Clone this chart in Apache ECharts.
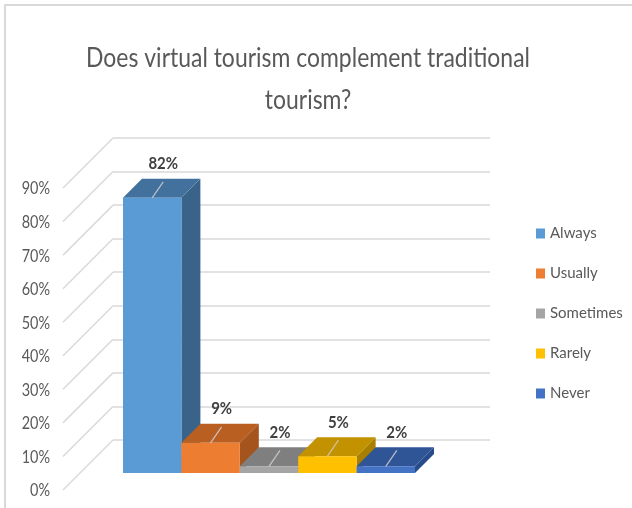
<!DOCTYPE html>
<html>
<head>
<meta charset="utf-8">
<script src="https://cdn.jsdelivr.net/npm/echarts@6/dist/echarts.min.js"></script>
<style>
  html, body { margin: 0; padding: 0; background: #ffffff; }
  #chart { width: 632px; height: 508px; }
</style>
</head>
<body>
<div id="chart"></div>
<script>
// Survey answers and their shares (percent)
const answers = ['Always', 'Usually', 'Sometimes', 'Rarely', 'Never'];
const shares = [82, 9, 2, 5, 2];
// Value-axis ticks (percent)
const tickValues = [0, 10, 20, 30, 40, 50, 60, 70, 80, 90];
const titleText = 'Does virtual tourism complement traditional\ntourism?';

// Face colours of each 3D column: front, top, right side
const frontColors = ['#5B9BD5', '#ED7D31', '#A5A5A5', '#FFC000', '#4472C4'];
const topColors = ['#41719C', '#B95F21', '#7F7F7F', '#C29200', '#2F5597'];
const sideColors = ['#3A6389', '#A4541C', '#6F6F6F', '#A97F00', '#284C8A'];

const FONT = "Lato, 'Open Sans', sans-serif";
const TEXT_GREY = '#595959';
const GRID_GREY = '#d9d9d9';
const DEPTH = 19;          // projected depth of a column (px, up and to the right)
const WALL_SHIFT = 50;     // offset from label plane to the back wall
const NARROW = 0.85;       // horizontal squeeze for the condensed lettering

const chart = echarts.init(document.getElementById('chart'), null, { renderer: 'canvas' });

function columnRenderer(idx) {
  return function (params, api) {
    const top = api.coord([api.value(0), api.value(1)]);
    const base = api.coord([api.value(0), 0]);
    const w = api.size([1, 0])[0];
    const x0 = top[0] - w / 2, x1 = top[0] + w / 2;
    const yt = top[1], yb = base[1];
    const lx = top[0] + 11;
    return {
      type: 'group',
      children: [
        { type: 'polygon', shape: { points: [[x1, yt], [x1 + DEPTH, yt - DEPTH], [x1 + DEPTH, yb - DEPTH], [x1, yb]] },
          style: { fill: sideColors[idx] } },
        { type: 'polygon', shape: { points: [[x0, yt], [x0 + DEPTH, yt - DEPTH], [x1 + DEPTH, yt - DEPTH], [x1, yt]] },
          style: { fill: topColors[idx] } },
        { type: 'rect', shape: { x: x0, y: yt, width: w, height: yb - yt },
          style: { fill: frontColors[idx] } },
        { type: 'line', shape: { x1: top[0], y1: yt, x2: lx, y2: yt - 16 },
          style: { stroke: 'rgba(210,210,210,0.85)', lineWidth: 1.2 } },
        { type: 'text', z2: 10, x: lx, y: yt - 34, scaleX: 0.88,
          style: { text: api.value(1) + '%', x: 0, y: 0, align: 'center', verticalAlign: 'middle',
                   fill: '#404040', fontSize: 17, fontWeight: 'bold', fontFamily: FONT } }
      ]
    };
  };
}

const columnSeries = answers.map(function (name, i) {
  return {
    type: 'custom',
    name: name,
    xAxisIndex: 0,
    yAxisIndex: 0,
    itemStyle: { color: frontColors[i] },
    data: [[i, shares[i]]],
    renderItem: columnRenderer(i),
    z: 5
  };
});

// Tick labels with depth lines running from each back to the wall
const depthLines = {
  type: 'custom',
  xAxisIndex: 2,
  yAxisIndex: 2,
  silent: true,
  data: tickValues.map(function (v) { return [0, v]; }),
  renderItem: function (params, api) {
    const v = api.value(1);
    const p = api.coord([0, v]);
    return {
      type: 'group',
      children: [
        { type: 'line',
          shape: { x1: p[0], y1: p[1], x2: p[0] + WALL_SHIFT, y2: p[1] - WALL_SHIFT },
          style: { stroke: GRID_GREY, lineWidth: 1.5 } },
        { type: 'text', x: p[0] - 13, y: p[1] + 1, scaleX: NARROW,
          style: { text: v + '%', x: 0, y: 0, align: 'right', verticalAlign: 'middle',
                   fill: TEXT_GREY, fontSize: 17, fontFamily: FONT } }
      ]
    };
  },
  z: 1
};

const valueAxisBase = { type: 'value', min: 0, max: 90, interval: 10 };

chart.setOption({
  animation: false,
  backgroundColor: '#ffffff',
  legend: {
    orient: 'vertical',
    left: 536,
    top: 226,
    padding: 0,
    itemWidth: 9,
    itemHeight: 10,
    itemGap: 25,
    icon: 'rect',
    data: answers,
    textStyle: { fontFamily: FONT, fontSize: 15, color: TEXT_GREY }
  },
  grid: [
    { left: 123, width: 292, top: 171, height: 302 },   // column front plane
    { left: 113, width: 377, top: 138, height: 302 },   // back wall
    { left: 63, width: 10, top: 188, height: 302 }      // tick label plane
  ],
  xAxis: [
    { type: 'category', gridIndex: 0, data: answers, show: false },
    { type: 'value', gridIndex: 1, min: 0, max: 1, show: false },
    { type: 'value', gridIndex: 2, min: 0, max: 1, show: false }
  ],
  yAxis: [
    Object.assign({ gridIndex: 0, show: false }, valueAxisBase),
    Object.assign({ gridIndex: 1, axisLabel: { show: false }, axisLine: { show: false }, axisTick: { show: false },
      splitLine: { show: true, lineStyle: { color: GRID_GREY, width: 1.5 } } }, valueAxisBase),
    Object.assign({ gridIndex: 2, show: false }, valueAxisBase)
  ],
  graphic: [
    { type: 'line', shape: { x1: 4, y1: 5, x2: 632, y2: 5 }, style: { stroke: GRID_GREY, lineWidth: 2 }, silent: true },
    { type: 'line', shape: { x1: 5, y1: 4, x2: 5, y2: 508 }, style: { stroke: GRID_GREY, lineWidth: 2 }, silent: true },
    { type: 'text', x: 308, y: 37, scaleX: NARROW, silent: true,
      style: { text: titleText, x: 0, y: 0, align: 'center', verticalAlign: 'top',
               fill: TEXT_GREY, fontSize: 27, lineHeight: 42, fontFamily: FONT } }
  ],
  series: [depthLines].concat(columnSeries)
});
</script>
</body>
</html>
